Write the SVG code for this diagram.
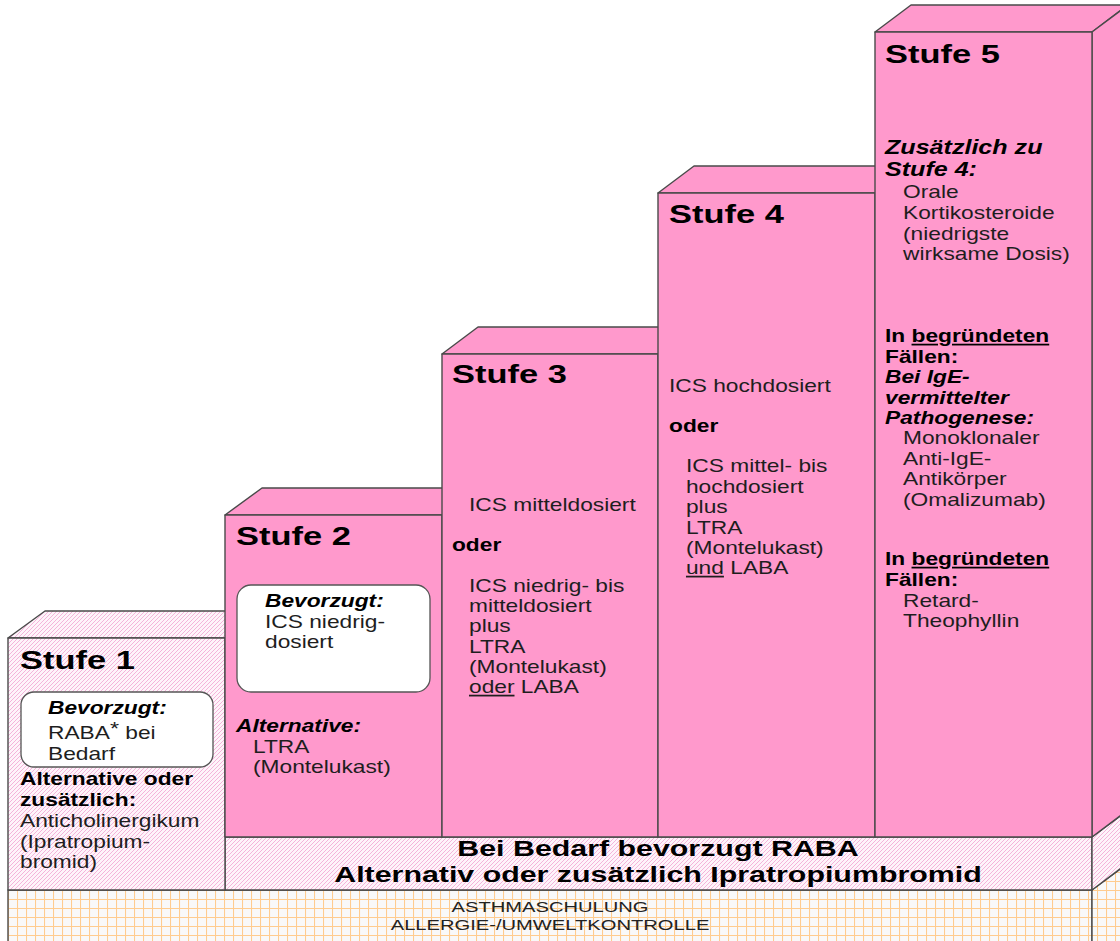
<svg xmlns="http://www.w3.org/2000/svg" width="1120" height="941" viewBox="0 0 1120 941">
<defs>
<pattern id="hatch" patternUnits="userSpaceOnUse" width="4" height="4">
<rect width="4" height="4" fill="#fef4fa"/>
<path d="M-1,1 l2,-2 M0,4 l4,-4 M3,5 l2,-2" stroke="#f4b4da" stroke-width="1"/>
</pattern>
<pattern id="grid" patternUnits="userSpaceOnUse" x="8" y="890" width="9" height="9">
<rect width="9" height="9" fill="#f9f9f9"/>
<path d="M0,0.5 H9 M0.5,0 V9" stroke="#ffcc8f" stroke-width="1.1"/>
</pattern>
</defs>
<style>
.edge{stroke:#4a4a4a;stroke-width:1.4;stroke-linejoin:round}
.pink{fill:#ff99cc}
.hat{fill:url(#hatch)}
.grd{fill:url(#grid)}
.box{fill:#ffffff;stroke:#555;stroke-width:1.3}
text{font-family:"Liberation Sans",Arial,sans-serif;fill:#1e1e1e}
.h{font-size:26.5px;font-weight:bold;fill:#000}
.t{font-size:17.5px}
.b{font-size:17.5px;font-weight:bold;fill:#000}
.bi{font-size:17.5px;font-weight:bold;font-style:italic;fill:#000}
.bi2{font-size:19.3px;font-weight:bold;font-style:italic;fill:#000}
.bar{font-size:22px;font-weight:bold;fill:#000;text-anchor:middle}
.base{font-size:15.5px;text-anchor:middle;fill:#222}
.u{text-decoration:underline}
</style>

<g id="base-band">
<rect class="grd edge" x="8" y="890" width="1084" height="56"/>
<polygon class="grd edge" points="1092,890 1128,863 1128,946 1092,946"/>
<g transform="scale(1.3,1)">
<text class="base" x="423.1" y="912">ASTHMASCHULUNG</text>
<text class="base" x="423.1" y="930">ALLERGIE-/UMWELTKONTROLLE</text>
</g>
</g>

<g id="bedarf-bar">
<rect class="hat edge" x="225" y="837" width="867" height="53"/>
<polygon class="hat edge" points="1092,837 1128,810 1128,863 1092,890"/>
<g transform="scale(1.38,1)">
<text class="bar" x="476.8" y="856">Bei Bedarf bevorzugt RABA</text>
<text class="bar" x="476.8" y="882">Alternativ oder zusätzlich Ipratropiumbromid</text>
</g>
</g>

<g id="stufe1">
<polygon class="hat edge" points="8,638 45,611 262,611 225,638"/>
<rect class="hat edge" x="8" y="638" width="217" height="252"/>
<rect class="box" x="21" y="692" width="192" height="75" rx="13"/>
<g transform="scale(1.3,1)">
<text class="h" x="15.38" y="669">Stufe 1</text>
<text class="bi" x="36.92" y="714">Bevorzugt:</text>
<text class="t" x="36.92" y="739">RABA<tspan dy="-4" font-size="18px">*</tspan><tspan dy="4"> bei</tspan></text>
<text class="t" x="36.92" y="760">Bedarf</text>
<text class="b" x="15.38" y="785">Alternative oder</text>
<text class="b" x="15.38" y="806">zusätzlich:</text>
<text class="t" x="15.38" y="827">Anticholinergikum</text>
<text class="t" x="15.38" y="848">(Ipratropium-</text>
<text class="t" x="15.38" y="868">bromid)</text>
</g>
</g>

<g id="stufe2">
<polygon class="pink edge" points="225,515 262,488 479,488 442,515"/>
<rect class="pink edge" x="225" y="515" width="217" height="322"/>
<rect class="box" x="237" y="585" width="193" height="107" rx="14"/>
<g transform="scale(1.3,1)">
<text class="h" x="181.54" y="545">Stufe 2</text>
<text class="bi" x="203.85" y="607">Bevorzugt:</text>
<text class="t" x="203.85" y="628">ICS niedrig-</text>
<text class="t" x="203.85" y="648">dosiert</text>
<text class="bi" x="181.54" y="732">Alternative:</text>
<text class="t" x="194.62" y="753">LTRA</text>
<text class="t" x="194.62" y="773">(Montelukast)</text>
</g>
</g>

<g id="stufe3">
<polygon class="pink edge" points="442,354 478,327 694,327 658,354"/>
<rect class="pink edge" x="442" y="354" width="216" height="483"/>
<g transform="scale(1.3,1)">
<text class="h" x="347.69" y="383">Stufe 3</text>
<text class="t" x="360.77" y="511">ICS mitteldosiert</text>
<text class="b" x="347.69" y="551">oder</text>
<text class="t" x="360.77" y="592">ICS niedrig- bis</text>
<text class="t" x="360.77" y="612">mitteldosiert</text>
<text class="t" x="360.77" y="632">plus</text>
<text class="t" x="360.77" y="653">LTRA</text>
<text class="t" x="360.77" y="673">(Montelukast)</text>
<text class="t" x="360.77" y="693"><tspan class="u">oder</tspan> LABA</text>
</g>
</g>

<g id="stufe4">
<polygon class="pink edge" points="658,193 694,166 911,166 875,193"/>
<rect class="pink edge" x="658" y="193" width="217" height="644"/>
<g transform="scale(1.3,1)">
<text class="h" x="514.62" y="223">Stufe 4</text>
<text class="t" x="514.62" y="392">ICS hochdosiert</text>
<text class="b" x="514.62" y="432">oder</text>
<text class="t" x="527.69" y="472">ICS mittel- bis</text>
<text class="t" x="527.69" y="493">hochdosiert</text>
<text class="t" x="527.69" y="513">plus</text>
<text class="t" x="527.69" y="534">LTRA</text>
<text class="t" x="527.69" y="554">(Montelukast)</text>
<text class="t" x="527.69" y="574"><tspan class="u">und</tspan> LABA</text>
</g>
</g>

<g id="stufe5">
<polygon class="pink edge" points="875,32 911,5 1128,5 1092,32"/>
<polygon class="pink edge" points="1092,32 1128,5 1128,810 1092,837"/>
<rect class="pink edge" x="875" y="32" width="217" height="805"/>
<g transform="scale(1.3,1)">
<text class="h" x="680.77" y="63">Stufe 5</text>
<text class="bi2" x="680.77" y="154">Zusätzlich zu</text>
<text class="bi2" x="680.77" y="176">Stufe 4:</text>
<text class="t" x="694.62" y="198">Orale</text>
<text class="t" x="694.62" y="219">Kortikosteroide</text>
<text class="t" x="694.62" y="240">(niedrigste</text>
<text class="t" x="694.62" y="260">wirksame Dosis)</text>
<text class="b" x="680.77" y="342">In <tspan class="u">begründeten</tspan></text>
<text class="b" x="680.77" y="363">Fällen:</text>
<text class="bi" x="680.77" y="383">Bei IgE-</text>
<text class="bi" x="680.77" y="404">vermittelter</text>
<text class="bi" x="680.77" y="424">Pathogenese:</text>
<text class="t" x="694.62" y="444">Monoklonaler</text>
<text class="t" x="694.62" y="465">Anti-IgE-</text>
<text class="t" x="694.62" y="485">Antikörper</text>
<text class="t" x="694.62" y="506">(Omalizumab)</text>
<text class="b" x="680.77" y="565">In <tspan class="u">begründeten</tspan></text>
<text class="b" x="680.77" y="586">Fällen:</text>
<text class="t" x="694.62" y="607">Retard-</text>
<text class="t" x="694.62" y="627">Theophyllin</text>
</g>
</g>

<g id="connectors"/>
</svg>
